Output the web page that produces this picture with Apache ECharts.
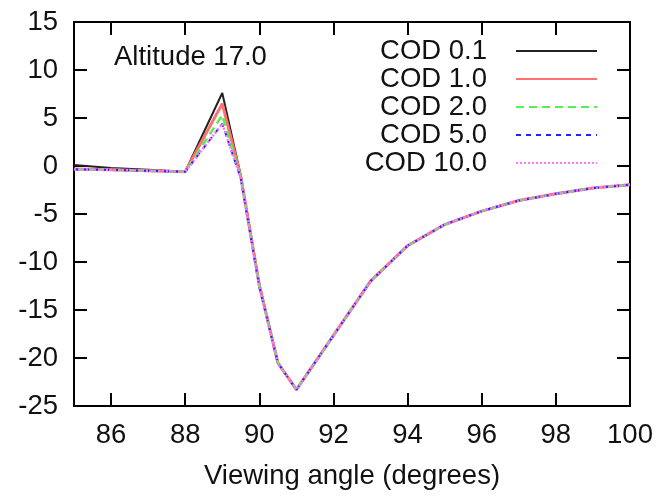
<!DOCTYPE html>
<html>
<head>
<meta charset="utf-8">
<script src="https://cdn.jsdelivr.net/npm/echarts@6/dist/echarts.min.js"></script>
<style>
  html, body { margin: 0; padding: 0; background: #fff; }
  #chart { width: 666px; height: 497px; }
</style>
</head>
<body>
<div id="chart"></div>
<script>
// viewing angle (degrees)
const angles = [85, 86, 87, 88, 89, 89.5, 90, 90.5, 91, 93, 94, 95, 96, 97, 98, 99, 100];
const cod01 = [0.1, -0.2, -0.4, -0.6, 7.6, -1.0, -12.3, -20.5, -23.3, -12.0, -8.3, -6.1, -4.7, -3.6, -2.9, -2.3, -1.95];
const cod1 = [-0.3, -0.4, -0.5, -0.6, 6.5, -1.1, -12.4, -20.5, -23.3, -12.0, -8.3, -6.1, -4.7, -3.6, -2.9, -2.3, -1.95];
const cod2 = [-0.35, -0.4, -0.5, -0.6, 5.3, -1.2, -12.5, -20.5, -23.3, -12.0, -8.3, -6.1, -4.7, -3.6, -2.9, -2.3, -1.95];
const cod5 = [-0.35, -0.4, -0.5, -0.6, 4.4, -1.3, -12.6, -20.5, -23.3, -12.0, -8.3, -6.1, -4.7, -3.6, -2.9, -2.3, -1.95];
const cod10 = [-0.35, -0.4, -0.5, -0.6, 4.4, -1.3, -12.6, -20.5, -23.3, -12.0, -8.3, -6.1, -4.7, -3.6, -2.9, -2.3, -1.95];

const xTicks = [86, 88, 90, 92, 94, 96, 98, 100];
const seriesNames = ['COD 0.1', 'COD 1.0', 'COD 2.0', 'COD 5.0', 'COD 10.0'];

const font = '"Liberation Sans", Arial, sans-serif';
const fontSize = 27.5;
const pair = (ys) => angles.map((a, i) => [a, ys[i]]);

const myChart = echarts.init(document.getElementById('chart'));

const frameAxis = {
  axisLine: { show: true, onZero: false, lineStyle: { color: '#000', width: 2 } },
  axisTick: { show: true, inside: true, length: 13, lineStyle: { color: '#000', width: 2 } },
  splitLine: { show: false }
};

const option = {
  animation: false,
  title: {
    text: 'Altitude 17.0',
    left: 114,
    top: 43,
    padding: 0,
    textStyle: { fontFamily: font, fontSize: fontSize, fontWeight: 'normal', color: '#111' }
  },
  legend: {
    orient: 'vertical',
    align: 'right',
    right: 63,
    top: 32,
    itemWidth: 81,
    itemHeight: 12,
    itemGap: 0,
    data: seriesNames,
    itemStyle: { opacity: 0 },
    textStyle: { fontFamily: font, fontSize: fontSize, color: '#111', padding: [0, 24, 0, 0] }
  },
  grid: { left: 74, right: 36, top: 22, bottom: 91 },
  xAxis: [
    Object.assign({}, frameAxis, {
      type: 'value',
      min: 85,
      max: 100,
      position: 'bottom',
      axisTick: Object.assign({}, frameAxis.axisTick, { customValues: xTicks }),
      axisLabel: {
        customValues: xTicks,
        margin: 15,
        fontFamily: font,
        fontSize: fontSize,
        color: '#111'
      },
      name: 'Viewing angle (degrees)',
      nameLocation: 'middle',
      nameGap: 56,
      nameTextStyle: { fontFamily: font, fontSize: fontSize, color: '#111' }
    }),
    Object.assign({}, frameAxis, {
      type: 'value',
      min: 85,
      max: 100,
      position: 'top',
      axisTick: Object.assign({}, frameAxis.axisTick, { customValues: xTicks }),
      axisLabel: { show: false }
    })
  ],
  yAxis: [
    Object.assign({}, frameAxis, {
      type: 'value',
      min: -25,
      max: 15,
      interval: 5,
      position: 'left',
      axisLabel: { margin: 16, fontFamily: font, fontSize: fontSize, color: '#111' }
    }),
    Object.assign({}, frameAxis, {
      type: 'value',
      min: -25,
      max: 15,
      interval: 5,
      position: 'right',
      axisLabel: { show: false }
    })
  ],
  series: [
    { name: seriesNames[0], type: 'line', data: pair(cod01), symbol: 'none',
      lineStyle: { color: '#222', width: 2 } },
    { name: seriesNames[1], type: 'line', data: pair(cod1), symbol: 'none',
      lineStyle: { color: '#ff7070', width: 3 } },
    { name: seriesNames[2], type: 'line', data: pair(cod2), symbol: 'none',
      lineStyle: { color: '#55ee55', width: 2.5, type: [8, 5] } },
    { name: seriesNames[3], type: 'line', data: pair(cod5), symbol: 'none',
      lineStyle: { color: '#2222ff', width: 2, type: [5, 5] } },
    { name: seriesNames[4], type: 'line', data: pair(cod10), symbol: 'none',
      lineStyle: { color: '#ff77ff', width: 2.5, type: [2, 2] } }
  ]
};

myChart.setOption(option);
</script>
</body>
</html>
